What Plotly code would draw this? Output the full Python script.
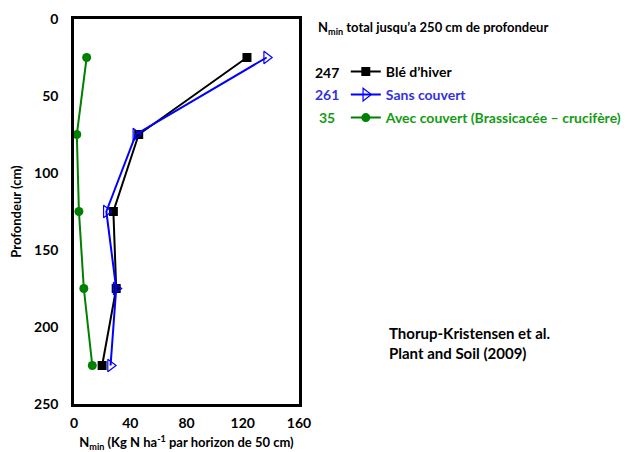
import plotly.graph_objects as go

depth = [25, 75, 125, 175, 225]
ble_hiver = [123, 46, 28, 30, 20]
sans_couvert = [137, 44, 23, 30, 26]
avec_couvert = [9, 2, 3.5, 7, 13]
totals = ["247", "261", "35"]
names = ["Blé d’hiver", "Sans couvert", "Avec couvert (Brassicacée – crucifère)"]
x_ticks = [0, 40, 80, 120, 160]
y_ticks = [0, 50, 100, 150, 200, 250]

FONT = "Lato"
text_cols = ["#000000", "#3333dd", "#139c13"]

fig = go.Figure()
fig.add_trace(go.Scatter(x=ble_hiver, y=depth, mode="lines+markers", name=names[0],
                         line=dict(color="black", width=2),
                         marker=dict(symbol="square", size=9, color="black"),
                         legend="legend"))
fig.add_trace(go.Scatter(x=sans_couvert, y=depth, mode="lines+markers", name=names[1],
                         line=dict(color="#0000ff", width=2),
                         marker=dict(symbol="triangle-right-open", size=11, color="#0000ff",
                                     line=dict(width=1.2), ),
                         legend="legend2"))
fig.add_trace(go.Scatter(x=avec_couvert, y=depth, mode="lines+markers", name=names[2],
                         line=dict(color="#008000", width=2),
                         marker=dict(symbol="circle", size=9, color="#008000"),
                         legend="legend3"))

leg_common = dict(bgcolor="rgba(0,0,0,0)", xanchor="left", yanchor="middle",
                  itemwidth=30, borderwidth=0)
# page body adds an 8px offset, so the figure is drawn 8px smaller and shifted
fig.update_layout(
    width=628, height=444,
    margin=dict(l=66, r=337, t=11, b=48, autoexpand=False),
    paper_bgcolor="white", plot_bgcolor="white",
    font=dict(family=FONT, size=14, color="black", weight="bold"),
    showlegend=True,
    legend=dict(x=1.208, y=(404 - 72) / 385, font=dict(size=14, color=text_cols[0], family=FONT, weight="bold"), **leg_common),
    legend2=dict(x=1.208, y=(404 - 95) / 385, font=dict(size=14, color=text_cols[1], family=FONT, weight="bold"), **leg_common),
    legend3=dict(x=1.208, y=(404 - 118) / 385, font=dict(size=14, color=text_cols[2], family=FONT, weight="bold"), **leg_common),
    xaxis=dict(range=[0, 160], tickvals=x_ticks, showgrid=False, zeroline=False,
               showline=True, linecolor="black", linewidth=2.5, mirror=True,
               ticks="", tickfont=dict(size=14), ticklabelstandoff=4,
               title=dict(text="N<sub>min</sub> (Kg N ha<sup>-1</sup> par horizon de 50 cm)",
                          font=dict(size=13), standoff=12)),
    yaxis=dict(range=[250, 0], tickvals=y_ticks, showgrid=False, zeroline=False,
               showline=True, linecolor="black", linewidth=2.5, mirror=True,
               ticks="", tickfont=dict(size=14), ticklabelstandoff=10,
               title=dict(text="Profondeur (cm)", font=dict(size=13), standoff=12)),
)

# header
fig.add_annotation(xref="paper", yref="paper", x=(316 - 74) / 225, y=(404 - 28) / 385,
                   xanchor="left", yanchor="middle", showarrow=False,
                   text="N<sub>min</sub> total jusqu’a 250 cm de profondeur",
                   font=dict(size=13, color="black"))
# totals
for i, (t, yy) in enumerate(zip(totals, [72, 95, 118])):
    fig.add_annotation(xref="paper", yref="paper", x=(327 - 74) / 225, y=(404 - yy) / 385,
                       xanchor="center", yanchor="middle", showarrow=False,
                       text=t, font=dict(size=14, color=text_cols[i]))
# citation
fig.add_annotation(xref="paper", yref="paper", x=(387 - 74) / 225, y=(404 - 343) / 385,
                   xanchor="left", yanchor="middle", showarrow=False, align="left",
                   text="Thorup-Kristensen et al.<br>Plant and Soil (2009)",
                   font=dict(size=15, color="black"))

fig.write_html("out.html")
